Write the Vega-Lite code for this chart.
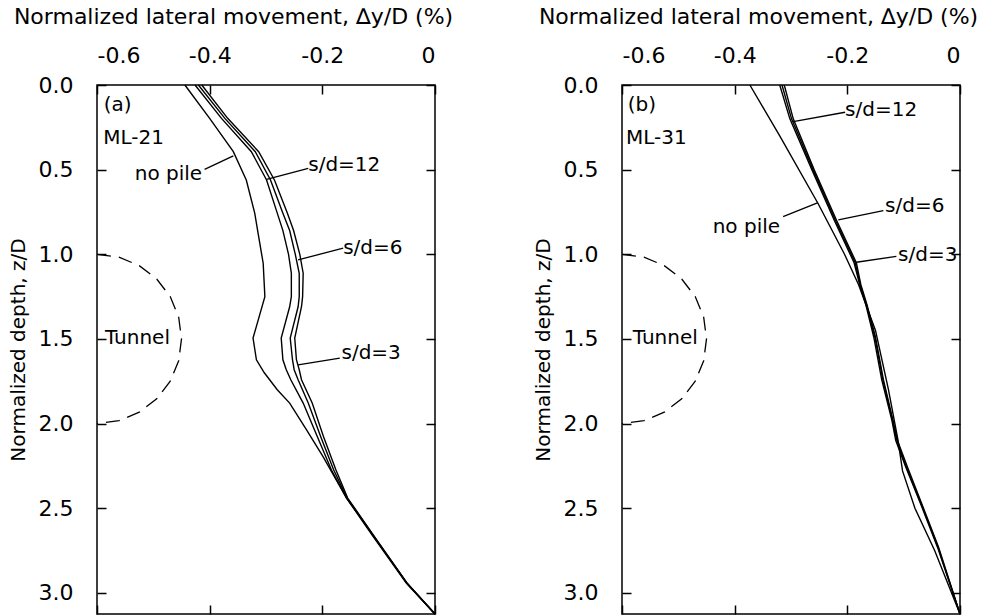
{
  "$schema": "https://vega.github.io/schema/vega-lite/v6.json",
  "padding": {"left": 7, "top": 4, "right": 5, "bottom": 0},
  "spacing": 78,
  "config": {
    "font": "DejaVu Sans",
    "view": {"stroke": "black", "strokeWidth": 1.5},
    "axis": {
      "labelFontSize": 22, "titleFontSize": 20, "labelColor": "black", "titleColor": "black",
      "titleFontWeight": "normal", "domain": false, "grid": false, "tickColor": "black",
      "tickWidth": 1.5, "tickSize": -9, "labelPadding": 27, "titlePadding": 10
    }
  },
  "datasets": {
    "curvesA": [
      {"s": "nopile", "z": 0, "dx": -0.444}, {"s": "nopile", "z": 0.197, "dx": -0.4}, {"s": "nopile", "z": 0.394, "dx": -0.358},
      {"s": "nopile", "z": 0.561, "dx": -0.335}, {"s": "nopile", "z": 0.757, "dx": -0.32}, {"s": "nopile", "z": 0.876, "dx": -0.314},
      {"s": "nopile", "z": 1.053, "dx": -0.305}, {"s": "nopile", "z": 1.25, "dx": -0.302}, {"s": "nopile", "z": 1.495, "dx": -0.323},
      {"s": "nopile", "z": 1.623, "dx": -0.317}, {"s": "nopile", "z": 1.7, "dx": -0.303}, {"s": "nopile", "z": 1.8, "dx": -0.28},
      {"s": "nopile", "z": 1.879, "dx": -0.258}, {"s": "nopile", "z": 2.037, "dx": -0.228}, {"s": "nopile", "z": 2.194, "dx": -0.199},
      {"s": "nopile", "z": 2.44, "dx": -0.157}, {"s": "nopile", "z": 2.666, "dx": -0.11}, {"s": "nopile", "z": 2.942, "dx": -0.051},
      {"s": "nopile", "z": 3.125, "dx": 0},
      {"s": "sd12", "z": 0, "dx": -0.426}, {"s": "sd12", "z": 0.197, "dx": -0.379}, {"s": "sd12", "z": 0.394, "dx": -0.326},
      {"s": "sd12", "z": 0.561, "dx": -0.299}, {"s": "sd12", "z": 0.757, "dx": -0.28}, {"s": "sd12", "z": 0.86, "dx": -0.27},
      {"s": "sd12", "z": 1.0, "dx": -0.26}, {"s": "sd12", "z": 1.112, "dx": -0.255}, {"s": "sd12", "z": 1.25, "dx": -0.255},
      {"s": "sd12", "z": 1.31, "dx": -0.258}, {"s": "sd12", "z": 1.495, "dx": -0.273}, {"s": "sd12", "z": 1.623, "dx": -0.27},
      {"s": "sd12", "z": 1.682, "dx": -0.264}, {"s": "sd12", "z": 1.741, "dx": -0.256}, {"s": "sd12", "z": 1.879, "dx": -0.234},
      {"s": "sd12", "z": 2.076, "dx": -0.209}, {"s": "sd12", "z": 2.273, "dx": -0.184}, {"s": "sd12", "z": 2.44, "dx": -0.157},
      {"s": "sd12", "z": 2.666, "dx": -0.109}, {"s": "sd12", "z": 2.942, "dx": -0.05}, {"s": "sd12", "z": 3.125, "dx": 0},
      {"s": "sd6", "z": 0, "dx": -0.42}, {"s": "sd6", "z": 0.197, "dx": -0.373}, {"s": "sd6", "z": 0.394, "dx": -0.319},
      {"s": "sd6", "z": 0.561, "dx": -0.292}, {"s": "sd6", "z": 0.757, "dx": -0.27}, {"s": "sd6", "z": 0.86, "dx": -0.258},
      {"s": "sd6", "z": 1.0, "dx": -0.248}, {"s": "sd6", "z": 1.112, "dx": -0.241}, {"s": "sd6", "z": 1.25, "dx": -0.241},
      {"s": "sd6", "z": 1.31, "dx": -0.243}, {"s": "sd6", "z": 1.495, "dx": -0.257}, {"s": "sd6", "z": 1.623, "dx": -0.253},
      {"s": "sd6", "z": 1.682, "dx": -0.25}, {"s": "sd6", "z": 1.741, "dx": -0.243}, {"s": "sd6", "z": 1.879, "dx": -0.225},
      {"s": "sd6", "z": 2.076, "dx": -0.203}, {"s": "sd6", "z": 2.273, "dx": -0.18}, {"s": "sd6", "z": 2.44, "dx": -0.156},
      {"s": "sd6", "z": 2.666, "dx": -0.108}, {"s": "sd6", "z": 2.942, "dx": -0.05}, {"s": "sd6", "z": 3.125, "dx": 0},
      {"s": "sd3", "z": 0, "dx": -0.414}, {"s": "sd3", "z": 0.197, "dx": -0.368}, {"s": "sd3", "z": 0.394, "dx": -0.313},
      {"s": "sd3", "z": 0.561, "dx": -0.285}, {"s": "sd3", "z": 0.757, "dx": -0.262}, {"s": "sd3", "z": 0.86, "dx": -0.251},
      {"s": "sd3", "z": 1.0, "dx": -0.24}, {"s": "sd3", "z": 1.112, "dx": -0.234}, {"s": "sd3", "z": 1.25, "dx": -0.235},
      {"s": "sd3", "z": 1.31, "dx": -0.237}, {"s": "sd3", "z": 1.495, "dx": -0.249}, {"s": "sd3", "z": 1.623, "dx": -0.246},
      {"s": "sd3", "z": 1.682, "dx": -0.241}, {"s": "sd3", "z": 1.741, "dx": -0.237}, {"s": "sd3", "z": 1.879, "dx": -0.218},
      {"s": "sd3", "z": 2.076, "dx": -0.198}, {"s": "sd3", "z": 2.273, "dx": -0.176}, {"s": "sd3", "z": 2.44, "dx": -0.155},
      {"s": "sd3", "z": 2.666, "dx": -0.108}, {"s": "sd3", "z": 2.942, "dx": -0.05}, {"s": "sd3", "z": 3.125, "dx": 0}
    ],
    "curvesB": [
      {"s": "nopile", "z": 0, "dx": -0.373}, {"s": "nopile", "z": 0.3, "dx": -0.32}, {"s": "nopile", "z": 0.7, "dx": -0.252},
      {"s": "nopile", "z": 1.0, "dx": -0.205}, {"s": "nopile", "z": 1.18, "dx": -0.18}, {"s": "nopile", "z": 1.45, "dx": -0.15},
      {"s": "nopile", "z": 1.8, "dx": -0.127}, {"s": "nopile", "z": 2.1, "dx": -0.11}, {"s": "nopile", "z": 2.28, "dx": -0.102},
      {"s": "nopile", "z": 2.5, "dx": -0.08}, {"s": "nopile", "z": 2.75, "dx": -0.045}, {"s": "nopile", "z": 3.125, "dx": 0},
      {"s": "sd12", "z": 0, "dx": -0.32}, {"s": "sd12", "z": 0.2, "dx": -0.302}, {"s": "sd12", "z": 0.5, "dx": -0.263},
      {"s": "sd12", "z": 0.8, "dx": -0.223}, {"s": "sd12", "z": 1.05, "dx": -0.188}, {"s": "sd12", "z": 1.18, "dx": -0.178},
      {"s": "sd12", "z": 1.3, "dx": -0.167}, {"s": "sd12", "z": 1.49, "dx": -0.153}, {"s": "sd12", "z": 1.74, "dx": -0.139},
      {"s": "sd12", "z": 1.98, "dx": -0.121}, {"s": "sd12", "z": 2.1, "dx": -0.114}, {"s": "sd12", "z": 2.25, "dx": -0.097},
      {"s": "sd12", "z": 2.49, "dx": -0.068}, {"s": "sd12", "z": 2.73, "dx": -0.04}, {"s": "sd12", "z": 3.125, "dx": 0},
      {"s": "sd6", "z": 0, "dx": -0.316}, {"s": "sd6", "z": 0.2, "dx": -0.299}, {"s": "sd6", "z": 0.5, "dx": -0.261},
      {"s": "sd6", "z": 0.8, "dx": -0.221}, {"s": "sd6", "z": 1.05, "dx": -0.186}, {"s": "sd6", "z": 1.18, "dx": -0.177},
      {"s": "sd6", "z": 1.3, "dx": -0.166}, {"s": "sd6", "z": 1.49, "dx": -0.151}, {"s": "sd6", "z": 1.74, "dx": -0.137},
      {"s": "sd6", "z": 1.98, "dx": -0.12}, {"s": "sd6", "z": 2.1, "dx": -0.112}, {"s": "sd6", "z": 2.25, "dx": -0.096},
      {"s": "sd6", "z": 2.49, "dx": -0.067}, {"s": "sd6", "z": 2.73, "dx": -0.039}, {"s": "sd6", "z": 3.125, "dx": 0},
      {"s": "sd3", "z": 0, "dx": -0.312}, {"s": "sd3", "z": 0.2, "dx": -0.296}, {"s": "sd3", "z": 0.5, "dx": -0.259},
      {"s": "sd3", "z": 0.8, "dx": -0.219}, {"s": "sd3", "z": 1.05, "dx": -0.184}, {"s": "sd3", "z": 1.18, "dx": -0.176},
      {"s": "sd3", "z": 1.3, "dx": -0.165}, {"s": "sd3", "z": 1.49, "dx": -0.15}, {"s": "sd3", "z": 1.74, "dx": -0.136},
      {"s": "sd3", "z": 1.98, "dx": -0.119}, {"s": "sd3", "z": 2.1, "dx": -0.111}, {"s": "sd3", "z": 2.25, "dx": -0.094},
      {"s": "sd3", "z": 2.49, "dx": -0.066}, {"s": "sd3", "z": 2.73, "dx": -0.038}, {"s": "sd3", "z": 3.125, "dx": 0}
    ],
    "tunnel": [
      {"z": 1.0, "dx": -0.6}, {"z": 1.017, "dx": -0.561}, {"z": 1.067, "dx": -0.525}, {"z": 1.146, "dx": -0.494},
      {"z": 1.25, "dx": -0.47}, {"z": 1.371, "dx": -0.455}, {"z": 1.5, "dx": -0.45}, {"z": 1.629, "dx": -0.455},
      {"z": 1.75, "dx": -0.47}, {"z": 1.854, "dx": -0.494}, {"z": 1.933, "dx": -0.525}, {"z": 1.983, "dx": -0.561},
      {"z": 2.0, "dx": -0.6}
    ],
    "textA": [
      {"t": "(a)", "dx": -0.588, "z": 0.118}, {"t": "ML-21", "dx": -0.589, "z": 0.315},
      {"t": "no pile", "dx": -0.533, "z": 0.527}, {"t": "s/d=12", "dx": -0.225, "z": 0.472},
      {"t": "s/d=6", "dx": -0.163, "z": 0.964}, {"t": "s/d=3", "dx": -0.166, "z": 1.584},
      {"t": "Tunnel", "dx": -0.586, "z": 1.495}
    ],
    "leadA": [
      {"dx": -0.409, "z": 0.498, "dx2": -0.358, "z2": 0.419},
      {"dx": -0.225, "z": 0.492, "dx2": -0.299, "z2": 0.557},
      {"dx": -0.163, "z": 0.964, "dx2": -0.243, "z2": 1.033},
      {"dx": -0.169, "z": 1.613, "dx2": -0.243, "z2": 1.653}
    ],
    "textB": [
      {"t": "(b)", "dx": -0.59, "z": 0.118}, {"t": "ML-31", "dx": -0.593, "z": 0.315},
      {"t": "s/d=12", "dx": -0.204, "z": 0.148}, {"t": "s/d=6", "dx": -0.133, "z": 0.714},
      {"t": "s/d=3", "dx": -0.11, "z": 1.004}, {"t": "no pile", "dx": -0.439, "z": 0.836},
      {"t": "Tunnel", "dx": -0.581, "z": 1.495}
    ],
    "leadB": [
      {"dx": -0.204, "z": 0.161, "dx2": -0.296, "z2": 0.217},
      {"dx": -0.136, "z": 0.742, "dx2": -0.216, "z2": 0.797},
      {"dx": -0.113, "z": 1.013, "dx2": -0.184, "z2": 1.047},
      {"dx": -0.314, "z": 0.777, "dx2": -0.252, "z2": 0.695}
    ]
  },
  "hconcat": [
    {
      "width": 338, "height": 529,
      "resolve": {"axis": {"x": "independent", "y": "independent"}},
      "layer": [
        {
          "data": {"name": "curvesA"},
          "mark": {"type": "line", "color": "black", "strokeWidth": 1.4},
          "encoding": {
            "x": {"field": "dx", "type": "quantitative", "scale": {"domain": [-0.6, 0], "nice": false, "zero": false},
              "axis": {"orient": "top", "title": "Normalized lateral movement, ∆y/D (%)", "values": [-0.6, -0.4, -0.2, 0],
                "titleFontSize": 22, "titlePadding": 16, "titleX": 136, "titleAnchor": "middle",
                "labelExpr": "datum.value == 0 ? '0' : '-' + format(abs(datum.value), '.1f')"}},
            "y": {"field": "z", "type": "quantitative", "scale": {"domain": [0, 3.125], "reverse": true, "nice": false, "zero": false},
              "axis": {"orient": "left", "title": "Normalized depth, z/D", "values": [0, 0.5, 1, 1.5, 2, 2.5, 3], "format": ".1f", "labelPadding": 33}},
            "detail": {"field": "s"},
            "order": {"field": "z", "type": "quantitative"}
          }
        },
        {
          "data": {"name": "tunnel"},
          "mark": {"type": "line", "color": "black", "strokeWidth": 1.3, "strokeDash": [14, 8]},
          "encoding": {
            "x": {"field": "dx", "type": "quantitative", "axis": {"orient": "bottom", "labels": false, "title": null, "values": [-0.6, -0.4, -0.2, 0]}},
            "y": {"field": "z", "type": "quantitative", "axis": {"orient": "right", "labels": false, "title": null, "values": [0, 0.5, 1, 1.5, 2, 2.5, 3]}},
            "order": {"field": "z", "type": "quantitative"}
          }
        },
        {
          "data": {"name": "leadA"},
          "mark": {"type": "rule", "color": "black", "strokeWidth": 1.3},
          "encoding": {
            "x": {"field": "dx", "type": "quantitative", "axis": null}, "y": {"field": "z", "type": "quantitative", "axis": null},
            "x2": {"field": "dx2"}, "y2": {"field": "z2"}
          }
        },
        {
          "data": {"name": "textA"},
          "mark": {"type": "text", "align": "left", "baseline": "middle", "fontSize": 20, "color": "black"},
          "encoding": {
            "x": {"field": "dx", "type": "quantitative", "axis": null}, "y": {"field": "z", "type": "quantitative", "axis": null},
            "text": {"field": "t"}
          }
        }
      ]
    },
    {
      "width": 338, "height": 529,
      "resolve": {"axis": {"x": "independent", "y": "independent"}},
      "layer": [
        {
          "data": {"name": "curvesB"},
          "mark": {"type": "line", "color": "black", "strokeWidth": 1.4},
          "encoding": {
            "x": {"field": "dx", "type": "quantitative", "scale": {"domain": [-0.6, 0], "nice": false, "zero": false},
              "axis": {"orient": "top", "title": "Normalized lateral movement, ∆y/D (%)", "values": [-0.6, -0.4, -0.2, 0],
                "titleFontSize": 22, "titlePadding": 16, "titleX": 136, "titleAnchor": "middle",
                "labelExpr": "datum.value == 0 ? '0' : '-' + format(abs(datum.value), '.1f')"}},
            "y": {"field": "z", "type": "quantitative", "scale": {"domain": [0, 3.125], "reverse": true, "nice": false, "zero": false},
              "axis": {"orient": "left", "title": "Normalized depth, z/D", "values": [0, 0.5, 1, 1.5, 2, 2.5, 3], "format": ".1f", "labelPadding": 33}},
            "detail": {"field": "s"},
            "order": {"field": "z", "type": "quantitative"}
          }
        },
        {
          "data": {"name": "tunnel"},
          "mark": {"type": "line", "color": "black", "strokeWidth": 1.3, "strokeDash": [14, 8]},
          "encoding": {
            "x": {"field": "dx", "type": "quantitative", "axis": {"orient": "bottom", "labels": false, "title": null, "values": [-0.6, -0.4, -0.2, 0]}},
            "y": {"field": "z", "type": "quantitative", "axis": {"orient": "right", "labels": false, "title": null, "values": [0, 0.5, 1, 1.5, 2, 2.5, 3]}},
            "order": {"field": "z", "type": "quantitative"}
          }
        },
        {
          "data": {"name": "leadB"},
          "mark": {"type": "rule", "color": "black", "strokeWidth": 1.3},
          "encoding": {
            "x": {"field": "dx", "type": "quantitative", "axis": null}, "y": {"field": "z", "type": "quantitative", "axis": null},
            "x2": {"field": "dx2"}, "y2": {"field": "z2"}
          }
        },
        {
          "data": {"name": "textB"},
          "mark": {"type": "text", "align": "left", "baseline": "middle", "fontSize": 20, "color": "black"},
          "encoding": {
            "x": {"field": "dx", "type": "quantitative", "axis": null}, "y": {"field": "z", "type": "quantitative", "axis": null},
            "text": {"field": "t"}
          }
        }
      ]
    }
  ]
}
